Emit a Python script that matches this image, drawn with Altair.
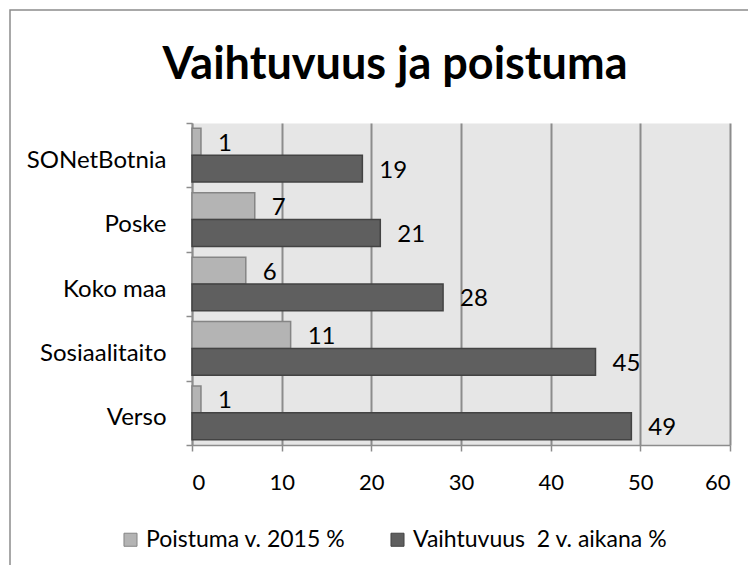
import altair as alt
import pandas as pd

categories = ["SONetBotnia", "Poske", "Koko maa", "Sosiaalitaito", "Verso"]
poistuma = [1, 7, 6, 11, 1]
vaihtuvuus = [19, 21, 28, 45, 49]
series = ["Poistuma v. 2015 %", "Vaihtuvuus \u00a02 v. aikana %"]
x_ticks = [0, 10, 20, 30, 40, 50, 60]

fills = ["#b4b4b4", "#5f5f5f"]
strokes = ["#858585", "#434343"]
GRID = "#8c8c8c"
FONT = "Lato"

rows = []
for c, p, v in zip(categories, poistuma, vaihtuvuus):
    rows.append({"cat": c, "series": series[0], "value": p})
    rows.append({"cat": c, "series": series[1], "value": v})
df = pd.DataFrame(rows)

y = alt.Y(
    "cat:N", sort=categories, title=None,
    scale=alt.Scale(paddingInner=0, paddingOuter=0),
    axis=alt.Axis(tickBand="extent", ticks=True, tickSize=6, tickColor=GRID,
                  tickWidth=1.5, domainColor=GRID, domainWidth=1.5,
                  labelFontSize=24, labelFont=FONT, labelColor="#000000",
                  labelPadding=20, labelOffset=5, grid=False),
)
yoff = alt.YOffset("series:N", sort=series,
                   scale=alt.Scale(paddingInner=0, paddingOuter=0.2))
x = alt.X(
    "value:Q", title=None,
    scale=alt.Scale(domain=[0, 60], nice=False),
    axis=alt.Axis(values=x_ticks, grid=True, gridColor=GRID, gridWidth=2,
                  ticks=True, tickSize=6, tickColor=GRID, tickWidth=1.5,
                  domainColor=GRID, domainWidth=1.5, labelFontSize=22,
                  labelFont=FONT, labelColor="#000000", labelPadding=21),
)

border = alt.Chart(pd.DataFrame({"k": [0]})).mark_rect(
    fill="transparent", stroke=GRID, strokeWidth=1.5
).encode(x=alt.value(-182), x2=alt.value(700), y=alt.value(-113), y2=alt.value(700))

bars = alt.Chart(df).mark_bar(strokeWidth=1.5).encode(
    x=x, y=y, yOffset=yoff,
    color=alt.Color("series:N", scale=alt.Scale(domain=series, range=fills),
                    legend=alt.Legend(orient="none", legendX=-73, legendY=405,
                                      direction="horizontal", title=None,
                                      symbolType="square", symbolSize=170,
                                      symbolStrokeColor="#555555",
                                      symbolStrokeWidth=1, labelFont=FONT,
                                      labelFontSize=23, labelColor="#000000",
                                      columnPadding=40, labelOffset=4,
                                      labelLimit=400)),
    stroke=alt.Stroke("series:N", scale=alt.Scale(domain=series, range=strokes),
                      legend=None),
)

labels = alt.Chart(df).mark_text(
    align="left", baseline="middle", dx=17, dy=2, fontSize=24, font=FONT,
    color="#000000"
).encode(x=alt.X("value:Q"), y=alt.Y("cat:N", sort=categories),
         yOffset=alt.YOffset("series:N", sort=series), text="value:Q")

chart = alt.layer(border, bars, labels).properties(
    width=538, height=322,
    autosize=alt.AutoSizeParams(type="none"),
    padding={"left": 184, "top": 115, "right": 18, "bottom": 120},
    title=alt.TitleParams("Vaihtuvuus ja poistuma", fontSize=45, font=FONT,
                          fontWeight="bold", anchor="middle", dx=-66, dy=124,
                          baseline="bottom", frame="group", offset=0,
                          color="#000000"),
).configure_view(fill="#e6e6e6", stroke="transparent")

chart.save("out.html", embed_options={"renderer": "svg", "actions": False})
